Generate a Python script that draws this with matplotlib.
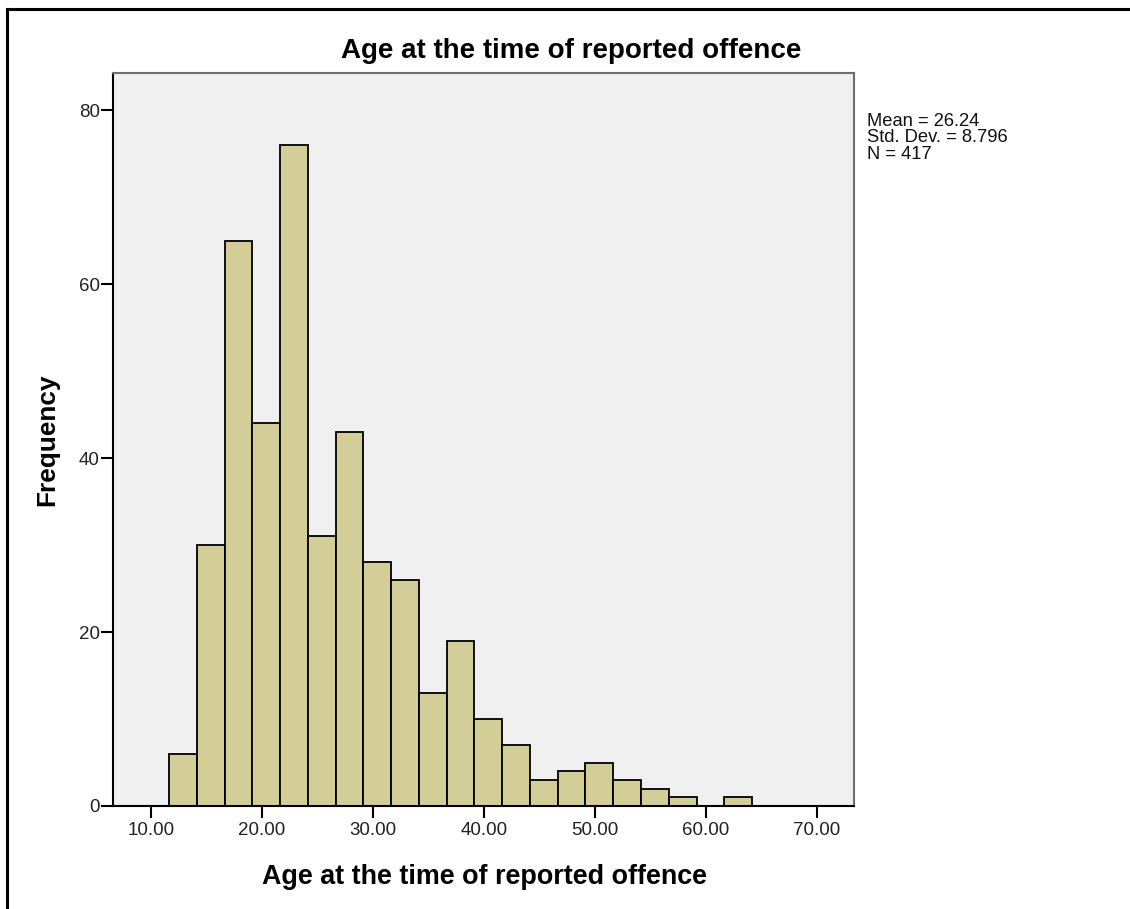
"""SPSS-style histogram: age at the time of reported offence."""
import matplotlib
matplotlib.use("Agg")
import matplotlib.pyplot as plt
from matplotlib.lines import Line2D
import numpy as np

# bin edges (years) and counts
bin_edges = [11.65, 14.15, 16.65, 19.15, 21.65, 24.15, 26.65, 29.15, 31.65,
             34.15, 36.65, 39.15, 41.65, 44.15, 46.65, 49.15, 51.65, 54.15,
             56.65, 59.15, 61.65, 64.15]
counts = [6, 30, 65, 44, 76, 31, 43, 28, 26, 13, 19, 10, 7, 3, 4, 5, 3, 2, 1, 0, 1]

x_ticks = [10, 20, 30, 40, 50, 60, 70]
y_ticks = [0, 20, 40, 60, 80]

title = "Age at the time of reported offence"
x_label = "Age at the time of reported offence"
y_label = "Frequency"
stats_lines = ["Mean = 26.24", "Std. Dev. = 8.796", "N = 417"]

plt.rcParams["font.family"] = ["Liberation Sans", "DejaVu Sans"]

W, H = 1130, 909
fig = plt.figure(figsize=(W / 100, H / 100), dpi=100)
fig.patch.set_facecolor("white")

ax = fig.add_axes([113.3 / W, 1 - 806 / H, (854 - 113.3) / W, (806 - 72.7) / H])
ax.set_facecolor("#f0f0f0")

edges = np.array(bin_edges)
ax.bar(edges[:-1], counts, width=np.diff(edges), align="edge",
       color="#d3ce97", edgecolor="black", linewidth=1.3)

ax.set_xlim(6.63, 73.33)
ax.set_ylim(0, 84.3)
ax.set_xticks(x_ticks)
ax.set_xticklabels([f"{v:.2f}" for v in x_ticks])
ax.set_yticks(y_ticks)
ax.tick_params(axis="both", direction="out", length=8.6, width=1.5,
               color="black", labelsize=13.5, labelcolor="#222222")
ax.tick_params(axis="x", pad=3)
ax.tick_params(axis="y", pad=1)

for side in ("left", "bottom"):
    ax.spines[side].set_color("black")
    ax.spines[side].set_linewidth(1.5)
for side in ("top", "right"):
    ax.spines[side].set_color("#6e6e6e")
    ax.spines[side].set_linewidth(1.5)

fig.text(571 / W, 1 - 58 / H, title, ha="center", va="baseline",
         fontsize=20, fontweight="bold")
fig.text(484 / W, 1 - 884 / H, x_label, ha="center", va="baseline",
         fontsize=19.4, fontweight="bold")
fig.text(47 / W, 1 - 440 / H, y_label, ha="center", va="center",
         rotation=90, fontsize=18.9, fontweight="bold")
fig.text(867 / W, 1 - 113 / H, "\n".join(stats_lines), ha="left", va="top",
         fontsize=13.2, linespacing=0.95, color="#111111")

# outer frame (left and top edges of the exported panel)
fig.add_artist(Line2D([7 / W, 7 / W], [0, 1 - 9 / H], transform=fig.transFigure,
                      color="black", linewidth=2.2))
fig.add_artist(Line2D([7 / W, 1], [1 - 9 / H, 1 - 9 / H], transform=fig.transFigure,
                      color="black", linewidth=2.2))

fig.savefig("out.png", dpi=100)
